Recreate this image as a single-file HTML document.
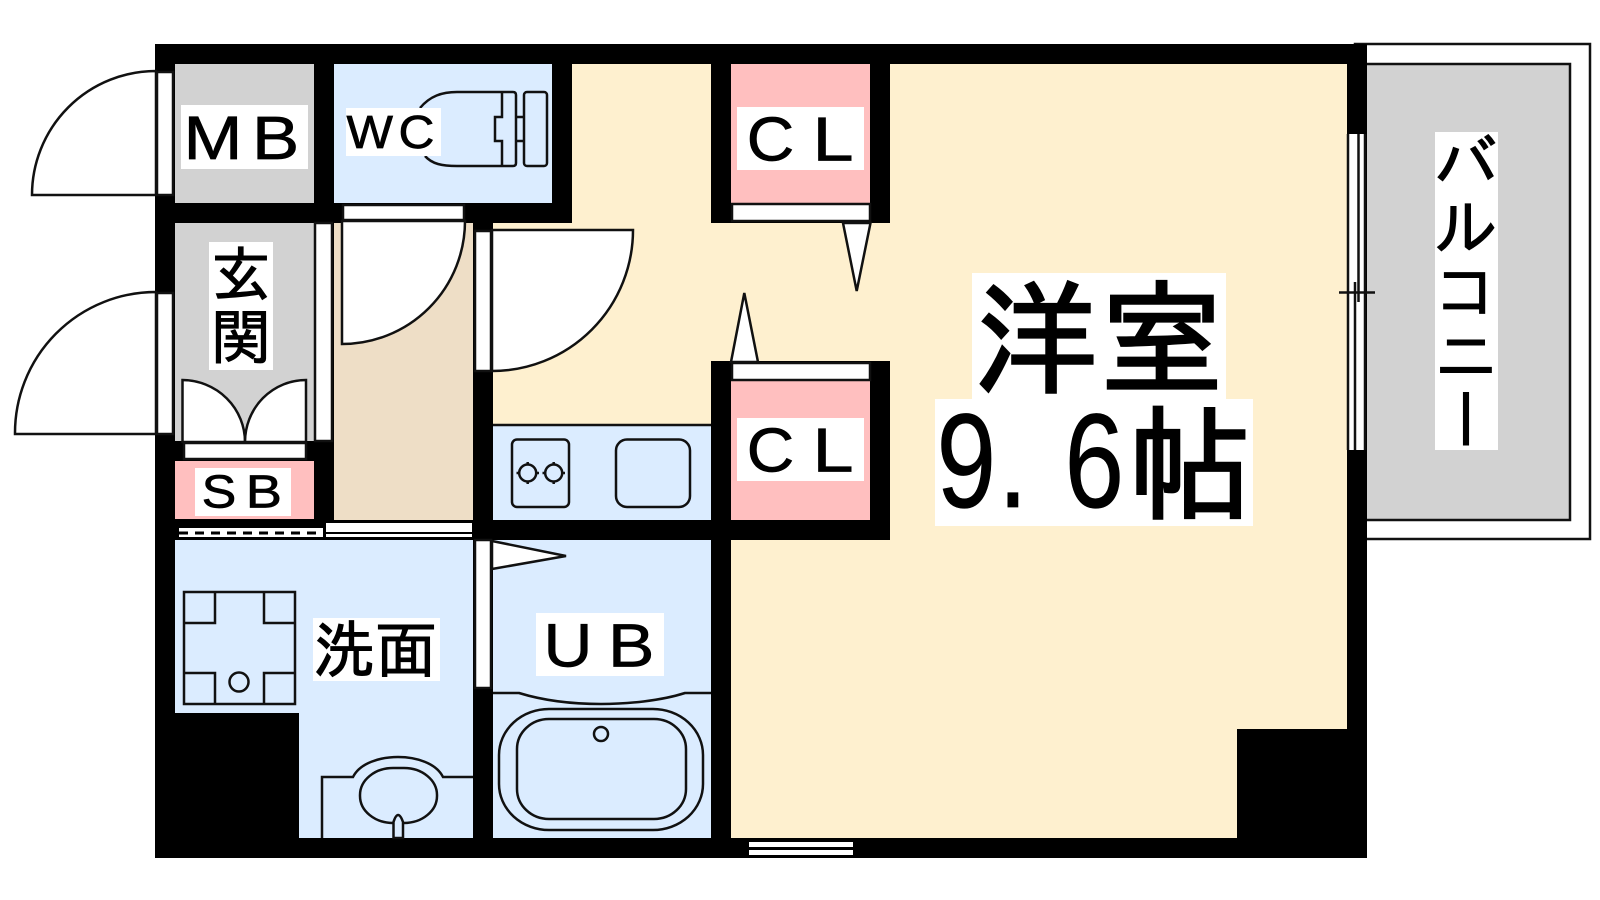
<!DOCTYPE html>
<html><head><meta charset="utf-8"><style>
html,body{margin:0;padding:0;background:#fff;width:1600px;height:900px;overflow:hidden}
svg{position:absolute;left:0;top:0}
text{font-family:"Liberation Sans",sans-serif;fill:#000;stroke:#000;stroke-width:.7px}
.j{font-family:"IPAGothic","Noto Sans CJK JP",sans-serif;stroke:#000;stroke-width:1px}
.b{position:absolute;left:1434px;top:130px;width:64px;writing-mode:vertical-rl;font:64px/64px "IPAGothic","Noto Sans CJK JP",sans-serif;color:#000;-webkit-text-stroke:1px #000;letter-spacing:0}
</style></head><body>
<svg width="1600" height="900" viewBox="0 0 1600 900" xmlns="http://www.w3.org/2000/svg">
<g fill="none" stroke="#111" stroke-width="2.5">
<rect x="1355" y="44" width="235" height="495" fill="#fff"/>
<rect x="1360" y="64" width="210" height="456" fill="#d2d2d2"/>
</g>
<rect x="155" y="44" width="1212" height="814" fill="#000"/>
<g fill="#fef0cf">
<rect x="493" y="223" width="854" height="297"/>
<rect x="572" y="64" width="139" height="160"/>
<rect x="890" y="64" width="457" height="476"/>
<rect x="731" y="540" width="616" height="298"/>
</g>
<g fill="#000">
<rect x="711" y="64" width="179" height="159"/>
<rect x="711" y="361" width="179" height="179"/>
<rect x="473" y="520" width="417" height="20"/>
<rect x="1237" y="729" width="110" height="109"/>
</g>
<g fill="#ffbfbf">
<rect x="731" y="64" width="139" height="139"/>
<rect x="731" y="381" width="139" height="139"/>
<rect x="175" y="461" width="139" height="58"/>
</g>
<g fill="#d2d2d2">
<rect x="175" y="64" width="139" height="139"/>
<rect x="175" y="223" width="139" height="218"/>
</g>
<rect x="334" y="223" width="139" height="297" fill="#eedec6"/>
<g fill="#dbecff">
<rect x="334" y="64" width="218" height="139"/>
<rect x="175" y="540" width="298" height="298"/>
<rect x="493" y="540" width="218" height="298"/>
<rect x="493" y="424" width="218" height="96"/>
</g>
<rect x="155" y="713" width="144" height="145" fill="#000"/>
<g fill="#fff" stroke="#111" stroke-width="2.5">
<path d="M156 71A124 124 0 0 0 32 195H156Z"/>
<rect x="157" y="72" width="16" height="123"/>
<path d="M156 292A141 141 0 0 0 15 434H156Z"/>
<rect x="157" y="293" width="16" height="141"/>
<rect x="315" y="223" width="17" height="218"/>
<rect x="343" y="205" width="121" height="15"/>
<path d="M342 221V344A123 123 0 0 0 465 221Z"/>
<rect x="475" y="231" width="16" height="140"/>
<path d="M492 230H633A141 141 0 0 1 492 371Z"/>
<rect x="732" y="204" width="138" height="17"/>
<rect x="732" y="363" width="138" height="17"/>
<path d="M843 223L856.7 291L870.5 223Z"/>
<path d="M731 362L744.3 293L758 362Z"/>
<path d="M182.5 380V442H245A63 62 0 0 0 182.5 380Z"/>
<path d="M306 380V442H245A61 62 0 0 1 306 380Z"/>
<rect x="184" y="443" width="122" height="16"/>
<rect x="179" y="528" width="144" height="9" stroke="none"/>
<rect x="326" y="523" width="146" height="9" stroke="none"/>
<rect x="326" y="534" width="146" height="3" stroke="none"/>
<rect x="475" y="540" width="16" height="148"/>
<path d="M492 541L566 556L492 569Z"/>
<rect x="1348" y="134" width="18" height="316" stroke="none"/>
<rect x="749" y="842" width="104" height="5" stroke="none"/>
<rect x="749" y="850" width="104" height="5" stroke="none"/>
</g>
<path d="M179 533H323" stroke="#000" stroke-width="3" stroke-dasharray="9 7" fill="none"/>
<path d="M1348 134V450M1355 282V450M1358.5 134V302M1365 134V450" stroke="#111" stroke-width="2.5" fill="none"/>
<path d="M1339 292.5H1375" stroke="#111" stroke-width="2.5" fill="none"/>
<g fill="none" stroke="#111" stroke-width="2.5">
<rect x="184" y="592" width="111" height="112"/>
<path d="M184 623H215V592M295 623H264V592M184 673H215V704M295 673H264V704"/>
<circle cx="239" cy="682" r="9.5"/>
<path d="M322 838V777H353C360 763 380 757 398 757C416 757 436 763 443 777H473"/>
<rect x="360" y="768" width="77" height="55" rx="33" ry="27"/>
<path d="M393.5 838V822Q398 808 403 822V838H393.5Z" fill="#dbecff"/>
<path d="M493 693H519C545 701 575 704 601 704C627 704 660 701 685 693H711"/>
<rect x="499" y="709" width="204" height="121" rx="50" ry="46"/>
<rect x="517" y="719" width="169" height="100" rx="32" ry="30"/>
<circle cx="601" cy="734" r="7"/>
<path d="M493 425H711"/>
<rect x="512" y="439.5" width="57" height="67.5" rx="5"/>
<rect x="616" y="439.5" width="74" height="67.5" rx="11"/>
<circle cx="527.7" cy="473" r="8.5"/>
<circle cx="553.7" cy="473" r="8.5"/>
<path d="M516.5 473H519M536.5 473H539M527.7 462V465M527.7 481V484M542.5 473H545M562.5 473H565M553.7 462V465M553.7 481V484"/>
<path d="M420 108C430 96 442 92 457 92H513Q516 92 516 95V163Q516 166 513 166H457C442 166 432 164 425 156"/>
<path d="M502 92V117H495V141H502V166"/>
<path d="M516 117H524M516 141H524"/>
<rect x="524" y="92" width="23" height="74" rx="3"/>
</g>
<g fill="#fff">
<rect x="181" y="105" width="127" height="64"/>
<rect x="346" y="108" width="95" height="48"/>
<rect x="209" y="242" width="64" height="128"/>
<rect x="195" y="468" width="96" height="48"/>
<rect x="737" y="107" width="127" height="63"/>
<rect x="737" y="418" width="127" height="63"/>
<rect x="313" y="618" width="127" height="63"/>
<rect x="536" y="613" width="128" height="63"/>
<rect x="972" y="273" width="254" height="126"/>
<rect x="935" y="399" width="318" height="127"/>
<rect x="1435" y="132" width="63" height="318"/>
</g>
<text transform="translate(183.5 159) scale(1.16 1)" font-size="61">M</text>
<text transform="translate(252 159) scale(1.16 1)" font-size="61">B</text>
<text transform="translate(346.5 148) scale(1.07 1)" font-size="46">W</text>
<text transform="translate(398.5 148) scale(1.08 1)" font-size="46">C</text>
<text transform="translate(201.6 507.5) scale(1.13 1)" font-size="46">S</text>
<text transform="translate(245.8 507.5) scale(1.18 1)" font-size="46">B</text>
<text transform="translate(746.7 160.5) scale(1.06 1)" font-size="62">C</text>
<text transform="translate(812.5 160.5) scale(1.19 1)" font-size="62">L</text>
<text transform="translate(746.7 471.5) scale(1.06 1)" font-size="62">C</text>
<text transform="translate(812.5 471.5) scale(1.19 1)" font-size="62">L</text>
<text transform="translate(543.5 666.5) scale(1.11 1)" font-size="61">U</text>
<text transform="translate(608 666.5) scale(1.14 1)" font-size="61">B</text>
<text class="j" x="211" y="296" font-size="60">玄</text>
<text class="j" x="211" y="359" font-size="60">関</text>
<text class="j" x="313" y="672" font-size="62">洗</text>
<text class="j" x="375" y="672" font-size="62">面</text>
<text class="j" x="974" y="384" font-size="124" style="stroke-width:2.5px">洋</text>
<text class="j" x="1100" y="384" font-size="124" style="stroke-width:2.5px">室</text>
<text transform="translate(936.5 507) scale(.8 1)" font-size="134">9</text>
<text transform="translate(998 507) scale(.8 1)" font-size="134">.</text>
<text transform="translate(1064.5 507) scale(.8 1)" font-size="134">6</text>
<text class="j" x="1128" y="510" font-size="124" style="stroke-width:2.5px">帖</text>
</svg>
<div class="b">バルコニー</div>
</body></html>
